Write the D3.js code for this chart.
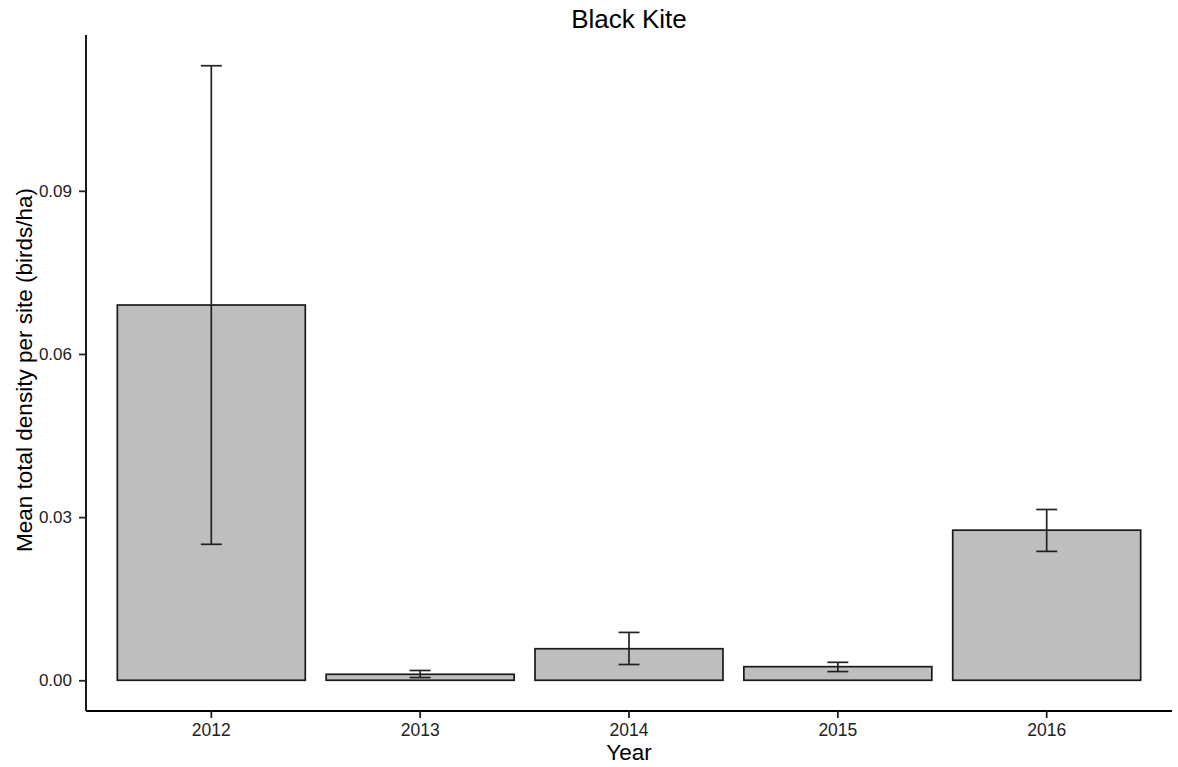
<!DOCTYPE html>
<html>
<head>
<meta charset="utf-8">
<script src="https://cdn.jsdelivr.net/npm/d3@7/dist/d3.min.js"></script>
<style>
body { margin: 0; background: #fff; }
text { font-family: "Liberation Sans", Arial, sans-serif; }
</style>
</head>
<body>
<svg id="chart" width="1178" height="767"></svg>
<script>
const years = ["2012", "2013", "2014", "2015", "2016"];
const meanDensity = [0.0690, 0.0011, 0.0058, 0.0025, 0.0276];
const errLow = [0.0250, 0.0005, 0.0029, 0.0016, 0.0237];
const errHigh = [0.1130, 0.0018, 0.0088, 0.0033, 0.0314];
const yTicks = [0.00, 0.03, 0.06, 0.09];

(function () {
const svg = d3.select("#chart");
const mLeft = 86, mRight = 1172, mTop = 35, mBottom = 711;

const x = d3.scaleBand().domain(years).range([mLeft, mRight]).paddingInner(0.1).paddingOuter(0.15);
const yMax = d3.max(errHigh), yMin = 0;
const ex = (yMax - yMin) * 0.05;
const y = d3.scaleLinear().domain([yMin - ex, yMax + ex]).range([mBottom, mTop]);

const data = years.map((yr, i) => ({ yr, v: meanDensity[i], lo: errLow[i], hi: errHigh[i] }));

svg.selectAll("rect.bar").data(data).enter().append("rect")
  .attr("class", "bar")
  .attr("x", d => x(d.yr))
  .attr("width", x.bandwidth())
  .attr("y", d => y(d.v))
  .attr("height", d => y(0) - y(d.v))
  .attr("fill", "#bebebe")
  .attr("stroke", "#1a1a1a")
  .attr("stroke-width", 1.7);

const capW = 21;
const cx = d => x(d.yr) + x.bandwidth() / 2;
const eb = svg.selectAll("g.err").data(data).enter().append("g").attr("class", "err")
  .attr("stroke", "#222").attr("stroke-width", 1.7);
eb.append("line").attr("x1", cx).attr("x2", cx).attr("y1", d => y(d.hi)).attr("y2", d => y(d.lo));
eb.append("line").attr("x1", d => cx(d) - capW / 2).attr("x2", d => cx(d) + capW / 2)
  .attr("y1", d => y(d.hi)).attr("y2", d => y(d.hi));
eb.append("line").attr("x1", d => cx(d) - capW / 2).attr("x2", d => cx(d) + capW / 2)
  .attr("y1", d => y(d.lo)).attr("y2", d => y(d.lo));

const yAxis = d3.axisLeft(y).tickValues(yTicks).tickFormat(d3.format(".2f")).tickSize(7).tickPadding(7);
const gy = svg.append("g").attr("transform", `translate(${mLeft},0)`).call(yAxis);
gy.select(".domain").attr("d", `M0,${mTop}V${mBottom}`).attr("stroke", "#000").attr("stroke-width", 1.8);
gy.selectAll(".tick line").attr("stroke", "#222").attr("stroke-width", 1.8);
gy.selectAll(".tick text").attr("font-size", 17).attr("fill", "#222").style("font-family", "Liberation Sans, Arial, sans-serif");

const xAxis = d3.axisBottom(x).tickSize(7).tickPadding(6);
const gx = svg.append("g").attr("transform", `translate(0,${mBottom})`).call(xAxis);
gx.select(".domain").attr("d", `M${mLeft},0H${mRight}`).attr("stroke", "#000").attr("stroke-width", 1.8);
gx.selectAll(".tick line").attr("stroke", "#222").attr("stroke-width", 1.8);
gx.selectAll(".tick text").attr("font-size", 17.5).attr("fill", "#222").style("font-family", "Liberation Sans, Arial, sans-serif");

svg.append("text").attr("x", (mLeft + mRight) / 2).attr("y", 28).attr("text-anchor", "middle")
  .attr("font-size", 26).attr("fill", "#000").text("Black Kite");
svg.append("text").attr("x", (mLeft + mRight) / 2).attr("y", 760).attr("text-anchor", "middle")
  .attr("font-size", 22.5).attr("fill", "#000").text("Year");
svg.append("text").attr("transform", `translate(32,370) rotate(-90)`).attr("text-anchor", "middle")
  .attr("font-size", 22.5).attr("fill", "#000").text("Mean total density per site (birds/ha)");
})();
</script>
</body>
</html>
